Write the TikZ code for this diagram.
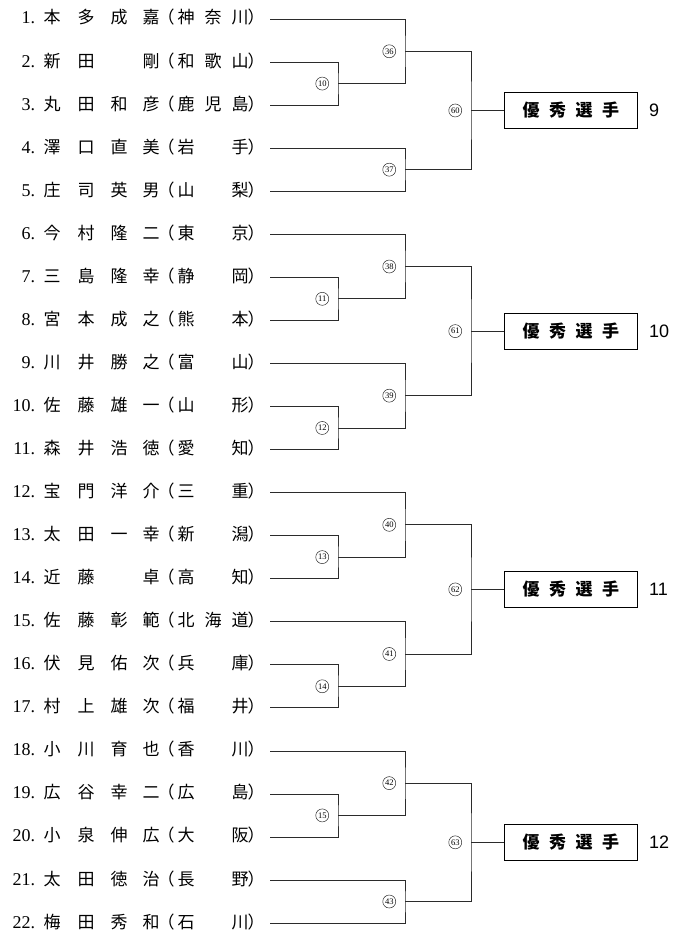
\documentclass[tikz,border=0pt]{standalone}
\usepackage{fontspec}
\setmainfont{Liberation Serif}
\newfontfamily\jpfont{Noto Sans CJK JP}
\newfontfamily\numfont{Liberation Sans}
\usetikzlibrary{calc, positioning}

\begin{document}
\begin{tikzpicture}[x=1pt, y=-1pt]

    % Define the bracket columns and the row spacing
    \def\colA{338}
    \def\colB{405}
    \def\colC{471}
    \def\rowGap{43.05}

    \definecolor{lineColour}{HTML}{2B2B2B}

    \tikzset{
        player/.style={anchor=west, inner sep=0pt, text height=13pt, text depth=3pt, font=\jpfont\fontsize{17}{17}\selectfont},
        bracket/.style={draw=lineColour, line width=0.7pt},
        match/.style={circle, draw=lineColour, line width=0.5pt, inner sep=0pt, minimum size=13pt, font=\fontsize{8.5}{8.5}\selectfont},
        award/.style={draw, line width=0.9pt, minimum width=133pt, minimum height=36pt, inner sep=0pt, font=\jpfont\bfseries\fontsize{17}{17}\selectfont},
        rank/.style={inner sep=0pt, font=\numfont\fontsize{18}{18}\selectfont}
    }

    \useasboundingbox (0,0) rectangle (679,942);

    % Entry layout: number, four name characters, prefecture in brackets
    \def\place#1#2{\makebox[0pt][l]{\hspace*{#1pt}\makebox[0pt]{#2}}}
    \def\entry#1#2#3#4#5#6#7#8{%
        \makebox[0pt][l]{\hspace*{25pt}\makebox[0pt][r]{\rmfamily\fontsize{18}{18}\selectfont #1.}}%
        \place{42}{#2}\place{76}{#3}\place{109}{#4}\place{141}{#5}%
        \place{156}{（}\place{176}{#6}\place{203}{#7}\place{230}{#8}\place{246}{）}%
        \hspace*{260pt}}

    % Draw the players
    \foreach \ka/\kb/\kc/\kd/\ke/\kf/\kg [count=\i] in {
        本/多/成/嘉/神/奈/川, 新/田/{}/剛/和/歌/山, 丸/田/和/彦/鹿/児/島,
        澤/口/直/美/岩/{}/手, 庄/司/英/男/山/{}/梨, 今/村/隆/二/東/{}/京,
        三/島/隆/幸/静/{}/岡, 宮/本/成/之/熊/{}/本, 川/井/勝/之/富/{}/山,
        佐/藤/雄/一/山/{}/形, 森/井/浩/徳/愛/{}/知, 宝/門/洋/介/三/{}/重,
        太/田/一/幸/新/{}/潟, 近/藤/{}/卓/高/{}/知, 佐/藤/彰/範/北/海/道,
        伏/見/佑/次/兵/{}/庫, 村/上/雄/次/福/{}/井, 小/川/育/也/香/{}/川,
        広/谷/幸/二/広/{}/島, 小/泉/伸/広/大/{}/阪, 太/田/徳/治/長/{}/野,
        梅/田/秀/和/石/{}/川}
        \node[player] (p\i) at (10, {19+\rowGap*(\i-1)}) {\entry{\i}{\ka}{\kb}{\kc}{\kd}{\ke}{\kf}{\kg}};

    % Draw the matches
    \foreach \m/\ua/\ub/\col in {
        10/p2.east/p3.east/\colA, 36/p1.east/j10/\colB, 37/p4.east/p5.east/\colB, 60/j36/j37/\colC,
        11/p7.east/p8.east/\colA, 38/p6.east/j11/\colB, 12/p10.east/p11.east/\colA, 39/p9.east/j12/\colB, 61/j38/j39/\colC,
        13/p13.east/p14.east/\colA, 40/p12.east/j13/\colB, 14/p16.east/p17.east/\colA, 41/p15.east/j14/\colB, 62/j40/j41/\colC,
        15/p19.east/p20.east/\colA, 42/p18.east/j15/\colB, 43/p21.east/p22.east/\colB, 63/j42/j43/\colC}
    {
        \path let \p1 = ($(\ua)!0.5!(\ub)$) in coordinate (j\m) at (\col, \y1);
        \draw[bracket] (\ua) -| (j\m) |- (\ub);
        \node[match, left=9pt of j\m] (m\m) {\m};
    }

    % Draw the awards
    \foreach \m/\rk in {60/9, 61/10, 62/11, 63/12} {
        \node[award, right=33pt of j\m] (b\m) {優\hspace{9.5pt}秀\hspace{9.5pt}選\hspace{9.5pt}手};
        \draw[bracket] (j\m) -- (b\m);
        \node[rank, anchor=west, right=11pt of b\m] (r\m) {\rk};
    }

\end{tikzpicture}
\end{document}
